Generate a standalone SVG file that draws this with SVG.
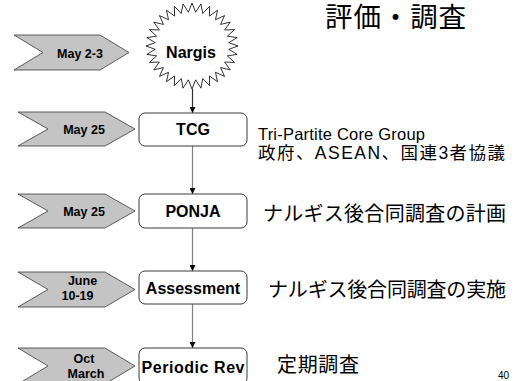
<svg xmlns="http://www.w3.org/2000/svg" width="519" height="381" viewBox="0 0 519 381">
<style>
.chev{fill:#c4c4c4;stroke:#3a3a3a;stroke-width:0.8}
.box{fill:#fff;stroke:#3a3a3a;stroke-width:1}
.date{font-family:"Liberation Sans",Arial,sans-serif;font-weight:bold;font-size:12.5px;fill:#000;text-anchor:middle}
.lbl{font-family:"Liberation Sans",Arial,sans-serif;font-weight:bold;font-size:16px;fill:#000;text-anchor:middle}
.jp{font-family:"Liberation Sans","Noto Sans CJK JP",sans-serif;fill:#000}
.conn{stroke:#808080;stroke-width:1.2;fill:none}
</style>
<defs>
<marker id="ah" markerUnits="userSpaceOnUse" markerWidth="6" markerHeight="6" refX="6" refY="3" orient="auto">
<path d="M0,0 L6,3 L0,6 z" fill="#000"/>
</marker>
</defs>
<rect width="519" height="381" fill="#fff"/>

<text class="jp" x="325" y="26.5" font-size="27.5" textLength="141" lengthAdjust="spacing">評価・調査</text>

<g id="connectors">
<line class="conn" x1="192.5" y1="89" x2="192.5" y2="113" style="stroke:#303030" marker-end="url(#ah)"/>
<line class="conn" x1="192.5" y1="146" x2="192.5" y2="194" marker-end="url(#ah)"/>
<line class="conn" x1="192.5" y1="228" x2="192.5" y2="271" marker-end="url(#ah)"/>
<line class="conn" x1="192.5" y1="304" x2="192.5" y2="348" marker-end="url(#ah)"/>
</g>

<g id="date1">
<polygon class="chev" points="14,35 100,35 129,52.5 100,70 14,70 43,52.5"/>
<text class="date" x="80" y="57.5">May 2-3</text>
</g>
<g id="date2">
<polygon class="chev" points="18,112 105,112 135,129 105,146 18,146 48,129"/>
<text class="date" x="84" y="134">May 25</text>
</g>
<g id="date3">
<polygon class="chev" points="18,194 105,194 135,211 105,228 18,228 48,211"/>
<text class="date" x="84" y="216">May 25</text>
</g>
<g id="date4">
<polygon class="chev" points="18,272 105,272 135,289.5 105,307 18,307 48,289.5"/>
<text class="date" x="82.5" y="285">June</text>
<text class="date" x="77.5" y="299.5">10-19</text>
</g>
<g id="date5">
<polygon class="chev" points="18,348 105,348 135,366 105,384 18,384 48,366"/>
<text class="date" x="84" y="363">Oct</text>
<text class="date" x="86" y="377.5">March</text>
</g>

<g id="nargis">
<polygon fill="#fff" stroke="#000" stroke-width="0.8" points="192,3 195.63,12.16 200.97,3.83 202.74,13.46 209.6,6.27 209.44,16.01 217.56,10.25 215.47,19.72 224.53,15.59 220.6,24.43 230.25,22.11 224.63,29.97 234.5,29.54 227.41,36.13 237.12,37.61 228.82,42.67 238,46 228.82,49.33 237.12,54.39 227.41,55.87 234.5,62.46 224.63,62.03 230.25,69.89 220.6,67.57 224.53,76.41 215.47,72.28 217.56,81.75 209.44,75.99 209.6,85.73 202.74,78.54 200.97,88.17 195.63,79.84 192,89 188.37,79.84 183.03,88.17 181.26,78.54 174.4,85.73 174.56,75.99 166.44,81.75 168.53,72.28 159.47,76.41 163.4,67.57 153.75,69.89 159.37,62.03 149.5,62.46 156.59,55.87 146.88,54.39 155.18,49.33 146,46 155.18,42.67 146.88,37.61 156.59,36.13 149.5,29.54 159.37,29.97 153.75,22.11 163.4,24.43 159.47,15.59 168.53,19.72 166.44,10.25 174.56,16.01 174.4,6.27 181.26,13.46 183.03,3.83 188.37,12.16"/>
<text class="lbl" x="191" y="57.5">Nargis</text>
</g>

<g id="tcg">
<rect class="box" x="139" y="113" width="108" height="33" rx="6"/>
<text class="lbl" x="193" y="135">TCG</text>
</g>
<g id="ponja">
<rect class="box" x="139" y="194" width="108" height="34" rx="6"/>
<text class="lbl" x="193" y="216.5">PONJA</text>
</g>
<g id="assessment">
<rect class="box" x="139" y="271" width="108" height="33" rx="6"/>
<text class="lbl" x="193" y="293.5">Assessment</text>
</g>
<g id="periodic">
<rect class="box" x="139" y="348" width="108" height="36" rx="6"/>
<text class="lbl" x="193" y="373" textLength="103" lengthAdjust="spacing">Periodic Rev</text>
</g>

<g id="desc">
<text class="jp" x="258" y="139.5" font-size="16.5" textLength="167" lengthAdjust="spacing">Tri-Partite Core Group</text>
<text class="jp" x="258" y="159" font-size="17.5" textLength="247" lengthAdjust="spacing">政府、ASEAN、国連3者協議</text>
<text class="jp" x="263" y="221" font-size="20" textLength="243" lengthAdjust="spacing">ナルギス後合同調査の計画</text>
<text class="jp" x="268" y="296.5" font-size="20" textLength="238" lengthAdjust="spacing">ナルギス後合同調査の実施</text>
<text class="jp" x="277" y="371.5" font-size="20" textLength="82" lengthAdjust="spacing">定期調査</text>
<text class="jp" x="498" y="379" font-size="10">40</text>
</g>
</svg>
